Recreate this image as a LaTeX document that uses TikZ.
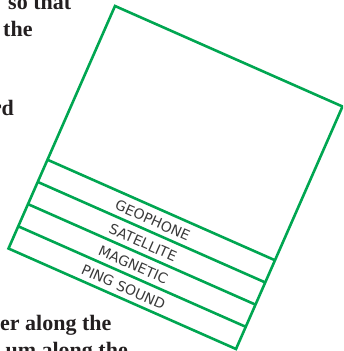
\documentclass[tikz,border=0pt]{standalone}
\usepackage{fontspec}
\setmainfont{Liberation Serif}
\newfontfamily\labelfont{DejaVu Sans}
\usetikzlibrary{calc}
\definecolor{boxgreen}{HTML}{00A651}
\definecolor{labelgray}{HTML}{3A3A3A}
\definecolor{booktext}{HTML}{231F20}
\begin{document}
\begin{tikzpicture}[x=1pt,y=-1pt,
  greenline/.style={draw=boxgreen, line width=2.6pt, line join=miter},
  stripelabel/.style={font=\labelfont\fontsize{14}{14}\selectfont, text=labelgray, rotate=-23.83, inner sep=0pt},
  pagetext/.style={font=\bfseries\fontsize{22}{22}\selectfont, text=booktext, inner sep=0pt}]
\useasboundingbox (0,0) rectangle (343,351);
\clip (0,0) rectangle (343,351);
% page text behind the card
\node[pagetext, anchor=base west] (w1) at (8,9.5) {so that};
\node[pagetext, anchor=base west] (w2) at (3,36) {the};
\node[pagetext, anchor=base east] (w3) at (14,115) {rd};
\node[pagetext, anchor=base west] (w4) at (0,330) {er along the};
\node[pagetext, anchor=base east] (w5) at (128,357) {um along the};
% card corners
\coordinate (T) at (115,6);
\coordinate (R) at (342.5,106.5);
\coordinate (BR) at (236,349);
\coordinate (BL) at (8.5,248.5);
\draw[greenline] (T) -- (R) -- (BR) -- (BL) -- cycle;
% stripe lines
\foreach \f/\n in {0.634/a, 0.7255/b, 0.817/c, 0.9085/d}{
  \coordinate (L\n) at ($(T)!\f!(BL)$);
  \coordinate (R\n) at ($(R)!\f!(BR)$);
  \draw[greenline] (L\n) -- (R\n);
}
\coordinate (Le) at (BL);
\coordinate (Re) at (BR);
% labels
\node[stripelabel] (geo) at ($($(La)!0.5!(Rb)$)+(-3.7,-0.6)$) {GEOPHONE};
\node[stripelabel] (sat) at ($($(Lb)!0.5!(Rc)$)+(-3.7,-0.6)$) {SATELLITE};
\node[stripelabel] (mag) at ($($(Lc)!0.5!(Rd)$)+(-3.7,-0.6)$) {MAGNETIC};
\node[stripelabel] (ping) at ($($(Ld)!0.5!(Re)$)+(-3.7,-0.6)$) {PING SOUND};
\end{tikzpicture}
\end{document}
